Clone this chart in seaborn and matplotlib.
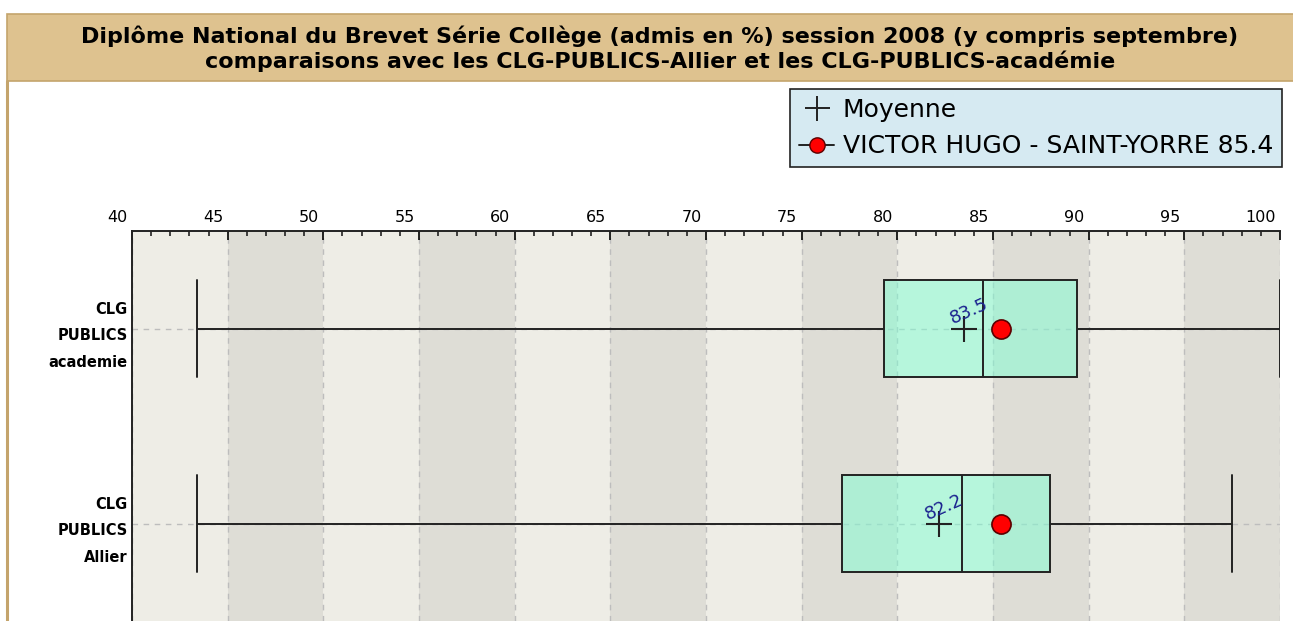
import pandas as pd
import seaborn as sns
import matplotlib.pyplot as plt
from matplotlib.lines import Line2D
from matplotlib.patches import Rectangle
from matplotlib.ticker import MultipleLocator
from matplotlib.transforms import ScaledTranslation

# values
groups = ["CLG\nPUBLICS\nacademie", "CLG\nPUBLICS\nAllier"]
whisker_low = [43.4, 43.4]
quart1 = [79.3, 77.1]
medians = [84.5, 83.4]
quart3 = [89.4, 88.0]
whisker_high = [100.0, 97.5]
means = [83.5, 82.2]
school_name = "VICTOR HUGO - SAINT-YORRE"
school_value = 85.4
x_ticks = [40, 45, 50, 55, 60, 65, 70, 75, 80, 85, 90, 95, 100]
title = ("Diplôme National du Brevet Série Collège (admis en %) session 2008 (y compris septembre)\n"
         "comparaisons avec les CLG-PUBLICS-Allier et les CLG-PUBLICS-académie")

# five points per group -> quartiles come out exactly, whiskers at min/max
rows = []
for g, a, b, c, d, e in zip(groups, whisker_low, quart1, medians, quart3, whisker_high):
    for v in (a, b, c, d, e):
        rows.append({"groupe": g, "admis": v})
df = pd.DataFrame(rows)
df_mean = pd.DataFrame({"groupe": groups, "admis": means})
df_school = pd.DataFrame({"groupe": groups, "admis": [school_value] * len(groups)})

sns.set_style("white")
plt.rcParams["font.family"] = ["DejaVu Sans"]
plt.rcParams["text.color"] = "black"
plt.rcParams["xtick.color"] = "black"
plt.rcParams["ytick.color"] = "black"

W, H = 1293, 621
fig = plt.figure(figsize=(W / 100, H / 100), dpi=100)
ax = fig.add_axes([132 / W, 0, 1148 / W, 390 / H])

# title banner + tan left border
fig.patches.append(Rectangle((7 / W, 1 - 81 / H), 1, 67 / H, transform=fig.transFigure,
                             facecolor="#DEC28F", edgecolor="#C4A46C", lw=1.2, zorder=0))
fig.lines.append(Line2D([7 / W, 7 / W], [0, 1 - 81 / H], transform=fig.transFigure,
                        color="#C4A46C", lw=2.2))
fig.text(660 / W, 1 - 49 / H, title, ha="center", va="center", fontsize=16,
         fontweight="bold", linespacing=1.2, color="black")

sns.boxplot(data=df, x="admis", y="groupe", orient="h", whis=(0, 100), width=0.5,
            capwidths=0.5, color="#7FFFD4", linecolor="#222222", linewidth=1.4,
            fliersize=0, ax=ax)
for p in ax.patches:
    p.set_facecolor((127 / 255, 1.0, 212 / 255, 0.5))
    p.set_edgecolor("#222222")

sns.scatterplot(data=df_mean, x="admis", y="groupe", marker="+", s=330, color="#222222",
                linewidth=1.5, zorder=5, ax=ax, legend=False)
sns.scatterplot(data=df_school, x="admis", y="groupe", marker="o", s=190, color="#FF0000",
                edgecolor="#5a0000", linewidth=1.2, zorder=6, ax=ax, legend=False)
for i, m in enumerate(means):
    ax.annotate(f"{m}", xy=(m, i), xytext=(-12, 4), textcoords="offset pixels",
                rotation=24, rotation_mode="anchor", ha="left", va="baseline",
                fontsize=13, color="#1a228f", zorder=7)

# alternating vertical bands
for i, lo in enumerate(x_ticks[:-1]):
    ax.axvspan(lo, lo + 5, color="#EEEDE6" if i % 2 == 0 else "#DEDDD6", lw=0, zorder=0)

ax.set_xlim(40, 100)
ax.set_ylim(len(groups) - 0.5, -0.5)
ax.set_axisbelow(True)
ax.grid(True, color="#BDBDBD", ls=(0, (4, 4)), lw=1)
ax.set_xlabel("")
ax.set_ylabel("")

ax.xaxis.tick_top()
ax.set_xticks(x_ticks)
ax.xaxis.set_minor_locator(MultipleLocator(1))
ax.tick_params(axis="x", which="major", direction="in", length=6.5, width=1.2, pad=4,
               labelsize=11.5, colors="black")
ax.tick_params(axis="x", which="minor", direction="in", length=3.5, width=1.2, color="#222222")
shift = ScaledTranslation(-3 / 72, 0, fig.dpi_scale_trans)
for lab in ax.get_xticklabels():
    lab.set_ha("right")
    lab.set_transform(lab.get_transform() + shift)

ax.tick_params(axis="y", direction="in", length=8, width=1.4, pad=3, colors="black")
for lab in ax.get_yticklabels():
    lab.set_fontweight("bold")
    lab.set_fontsize(10.5)
    lab.set_linespacing(1.95)

for s in ["right", "bottom"]:
    ax.spines[s].set_visible(False)
for s in ["left", "top"]:
    ax.spines[s].set_color("#222222")
    ax.spines[s].set_linewidth(1.4)

handles = [
    Line2D([], [], marker="+", ls="none", color="#222222", markersize=18, mew=1.4),
    Line2D([], [], marker="o", ls="-", color="#222222", lw=1.4, markersize=11,
           markerfacecolor="#FF0000", markeredgecolor="#5a0000"),
]
leg = fig.legend(handles, ["Moyenne", f"{school_name} {school_value}"],
                 loc="upper right", bbox_to_anchor=(1282 / W, 1 - 89 / H), fontsize=18,
                 frameon=True, fancybox=False, framealpha=1, facecolor="#D6EAF2",
                 edgecolor="#222222", handlelength=1.4, handletextpad=0.35,
                 borderpad=0.35, labelspacing=0.5, borderaxespad=0)
leg.get_frame().set_linewidth(1.2)

fig.savefig("out.png", dpi=100)
